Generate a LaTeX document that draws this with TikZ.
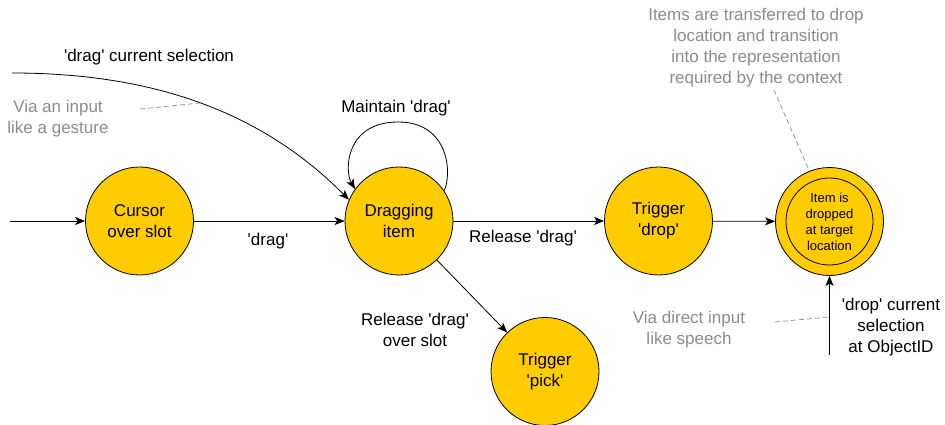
\documentclass[tikz,border=0pt]{standalone}
\usepackage{fontspec}
\setmainfont{Liberation Sans}[Ligatures=TeXOff]
\usetikzlibrary{arrows.meta}
\definecolor{stfill}{HTML}{FFCC00}
\definecolor{notegray}{HTML}{8C8C8C}
\begin{document}
\begin{tikzpicture}[x=1pt,y=-1pt,
  state/.style={circle,draw=black,line width=0.8pt,fill=stfill,minimum size=108pt,inner sep=0pt,align=center,font=\fontsize{17}{21}\selectfont},
  lbl/.style={align=center,font=\fontsize{17}{21}\selectfont,inner sep=1pt},
  note/.style={align=center,font=\fontsize{17}{21}\selectfont,text=notegray,inner sep=1pt},
  edge/.style={line width=0.8pt,-{Stealth[length=10pt,width=8pt,inset=2.5pt]}},
  notelink/.style={draw=notegray,dashed,line width=0.7pt,dash pattern=on 5pt off 3pt}]
\useasboundingbox (0,0) rectangle (945,425);
\node[state] (cursor) at (139.5,221) {Cursor\\over slot};
\node[state] (drag) at (399,221) {Dragging\\item};
\node[state] (trig) at (658.5,221) {Trigger\\'drop'};
\node[state] (pick) at (545,371.5) {Trigger\\'pick'};
\node[state] (final) at (829.5,221.5) {};
\node[circle,draw=black,line width=0.8pt,minimum size=87pt,inner sep=0pt,align=center,font=\fontsize{13}{16}\selectfont] (finalin) at (final.center) {Item is\\dropped\\at target\\location};
\coordinate (start) at (10,221);
\coordinate (cstart) at (12,73);
\coordinate (bstart) at (829.5,355);
\coordinate (looptop) at (398,122);
% edges
\draw[edge] (start) -- (cursor);
\draw[edge] (cursor) -- (drag);
\draw[edge] (drag) -- (trig);
\draw[edge] (trig) -- (final);
\draw[edge] (drag) -- (pick);
\draw[edge] (drag.34) .. controls (452,175) and (450,122) .. (looptop) .. controls (346,122) and (344,170) .. (drag.144);
\draw[edge] (cstart) .. controls (150,73) and (260,110) .. (drag.157);
\draw[edge] (bstart) -- (final.south);
% labels
\node[lbl] (l1) at (149,57) {'drag' current selection};
\node[lbl] (l2) at (396,108) {Maintain 'drag'};
\node[lbl] (l3) at (268,241) {'drag'};
\node[lbl] (l4) at (523,238) {Release 'drag'};
\node[lbl] (l5) at (415,330) {Release 'drag'\\over slot};
\node[lbl] (l6) at (891,327) {'drop' current\\selection\\at ObjectID};
% notes
\node[note] (n1) at (58,119) {Via an input\\like a gesture};
\node[note] (n2) at (689,330) {Via direct input\\like speech};
\node[note] (n3) at (756,47.5) {Items are transferred to drop\\location and transition\\into the representation\\required by the context};
\coordinate (n1a) at (140,109);
\coordinate (n1b) at (200,103);
\coordinate (n2a) at (775,322);
\coordinate (n2b) at (829,317);
\coordinate (n3a) at (774,90);
\coordinate (n3b) at (808,168);
\draw[notelink] (n1a) -- (n1b);
\draw[notelink] (n2a) -- (n2b);
\draw[notelink] (n3a) -- (n3b);
\end{tikzpicture}
\end{document}
